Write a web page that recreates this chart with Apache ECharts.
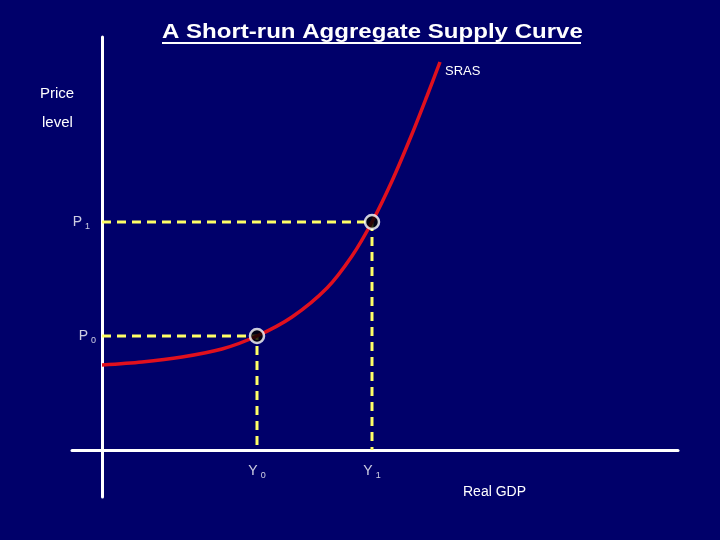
<!DOCTYPE html>
<html>
<head>
<meta charset="utf-8">
<script src="https://cdn.jsdelivr.net/npm/echarts@6/dist/echarts.min.js"></script>
<style>
html,body{margin:0;padding:0;background:#00006a;}
#c{width:720px;height:540px;}
</style>
</head>
<body>
<div id="c"></div>
<script>
// Data (arbitrary units: x = real GDP, y = price level)
var srasCurve = [[0,85],[40,88],[80,93],[120,101],[155,114],[190,133],[225,162],[250,194],[270,228],[290,269],[310,316],[325,354],[338,388]];
var equilibriumPoints = [[155,114],[270,228]];
var priceLabels = ['P', 'P'];
var priceSubs = ['0', '1'];
var gdpLabels = ['Y', 'Y'];
var gdpSubs = ['0', '1'];

var chart = echarts.init(document.getElementById('c'));
var font = 'Liberation Sans, Arial, sans-serif';
var rich = {
  m: {color:'#fff', fontSize:14, fontFamily:font},
  s: {color:'#fff', fontSize:9, fontFamily:font, padding:[9,0,0,3]}
};

var dashSeries = equilibriumPoints.map(function(p){
  return {
    type:'line', silent:true, symbol:'none',
    data:[[0,p[1]],[p[0],p[1]],[p[0],0]],
    lineStyle:{color:'#ffff66', width:3, type:[9,6]},
    z:2
  };
});

var labelData = [];
equilibriumPoints.forEach(function(p,i){
  labelData.push({value:[0,p[1]], label:{show:true, position:'left', distance: i===0 ? 6 : 12,
    formatter:'{m|'+priceLabels[i]+'}{s|'+priceSubs[i]+'}', rich:rich}});
  labelData.push({value:[p[0],0], label:{show:true, position:'bottom', distance:12,
    formatter:'{m|'+gdpLabels[i]+'}{s|'+gdpSubs[i]+'}', rich:rich}});
});

var option = {
  backgroundColor:'#00006a',
  animation:false,
  grid:{left:72, right:42, top:37, bottom:43},
  xAxis:{type:'value', min:-30, max:576,
    axisLine:{show:true, onZero:true, lineStyle:{color:'#ffffff', width:3}},
    axisTick:{show:false}, axisLabel:{show:false}, splitLine:{show:false}},
  yAxis:{type:'value', min:-47, max:413,
    axisLine:{show:true, onZero:true, lineStyle:{color:'#ffffff', width:3}},
    axisTick:{show:false}, axisLabel:{show:false}, splitLine:{show:false}},
  series: dashSeries.concat([
    {type:'line', data:srasCurve, smooth:0.3, symbol:'none',
     lineStyle:{color:'#e0101e', width:3.5}, z:3},
    {type:'scatter', data:equilibriumPoints, symbol:'circle', symbolSize:14,
     itemStyle:{color:'#000000', borderColor:'#ffffff', borderWidth:2.5}, z:5},
    {type:'scatter', data:labelData, symbolSize:0, silent:true, z:6}
  ]),
  graphic:[
    {type:'text', x:162, y:22, scaleX:1.145, style:{text:'A Short-run Aggregate Supply Curve', fill:'#fff',
      font:'bold 21px '+font}},
    {type:'rect', shape:{x:162, y:42, width:419, height:2}, style:{fill:'#fff'}},
    {type:'text', x:445, y:65, style:{text:'SRAS', fill:'#fff', font:'13px '+font}},
    {type:'text', x:40, y:86, style:{text:'Price', fill:'#fff', font:'15px '+font}},
    {type:'text', x:42, y:115, style:{text:'level', fill:'#fff', font:'15px '+font}},
    {type:'text', x:463, y:485, style:{text:'Real GDP', fill:'#fff', font:'14px '+font}}
  ]
};
chart.setOption(option);
</script>
</body>
</html>
